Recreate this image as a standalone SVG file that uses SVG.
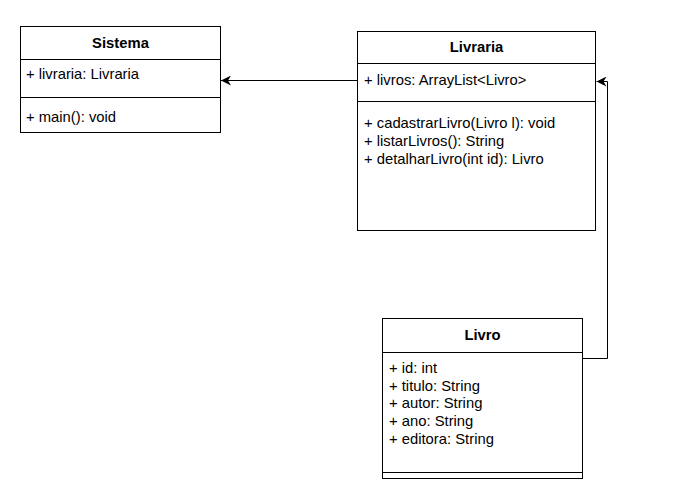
<svg xmlns="http://www.w3.org/2000/svg" width="683" height="490" viewBox="0 0 683 490">
<style>
.box{fill:#fff;stroke:#000;stroke-width:1}
.ln{stroke:#000;stroke-width:1;fill:none}
.t{font-family:"Liberation Sans",Arial,sans-serif;font-size:14.8px;fill:#000}
.h{font-weight:bold;text-anchor:middle}
</style>
<defs>
<marker id="arr" markerWidth="12" markerHeight="10" refX="10" refY="5" orient="auto" markerUnits="userSpaceOnUse">
<path d="M0,0 L10,5 L0,10 L3,5 Z" fill="#000"/>
</marker>
</defs>
<rect width="683" height="490" fill="#fff"/>
<g id="connectors">
<path class="ln" d="M357.5,80.5 H221" marker-end="url(#arr)"/>
<path class="ln" d="M582.5,358.5 H607.5 V81.5 H596.5" marker-end="url(#arr)"/>
</g>
<g id="sistema">
<rect class="box" x="20.5" y="26.5" width="200" height="106"/>
<line class="ln" x1="20.5" y1="59.5" x2="220.5" y2="59.5"/>
<line class="ln" x1="20.5" y1="97.5" x2="220.5" y2="97.5"/>
<text class="t h" x="120.5" y="48">Sistema</text>
<text class="t" x="26" y="79">+ livraria: Livraria</text>
<text class="t" x="26" y="122">+ main(): void</text>
</g>
<g id="livraria">
<rect class="box" x="357.5" y="31.5" width="238" height="199"/>
<line class="ln" x1="357.5" y1="63.5" x2="595.5" y2="63.5"/>
<line class="ln" x1="357.5" y1="101.5" x2="595.5" y2="101.5"/>
<text class="t h" x="476.5" y="52">Livraria</text>
<text class="t" x="364" y="85">+ livros: ArrayList&lt;Livro&gt;</text>
<text class="t" x="364" y="128">+ cadastrarLivro(Livro l): void</text>
<text class="t" x="364" y="146">+ listarLivros(): String</text>
<text class="t" x="364" y="164">+ detalharLivro(int id): Livro</text>
</g>
<g id="livro">
<rect class="box" x="382.5" y="318.5" width="200" height="160"/>
<line class="ln" x1="382.5" y1="352.5" x2="582.5" y2="352.5"/>
<line class="ln" x1="382.5" y1="472.5" x2="582.5" y2="472.5"/>
<text class="t h" x="482.5" y="340">Livro</text>
<text class="t" x="389" y="373">+ id: int</text>
<text class="t" x="389" y="391">+ titulo: String</text>
<text class="t" x="389" y="408">+ autor: String</text>
<text class="t" x="389" y="426">+ ano: String</text>
<text class="t" x="389" y="444">+ editora: String</text>
</g>
</svg>
